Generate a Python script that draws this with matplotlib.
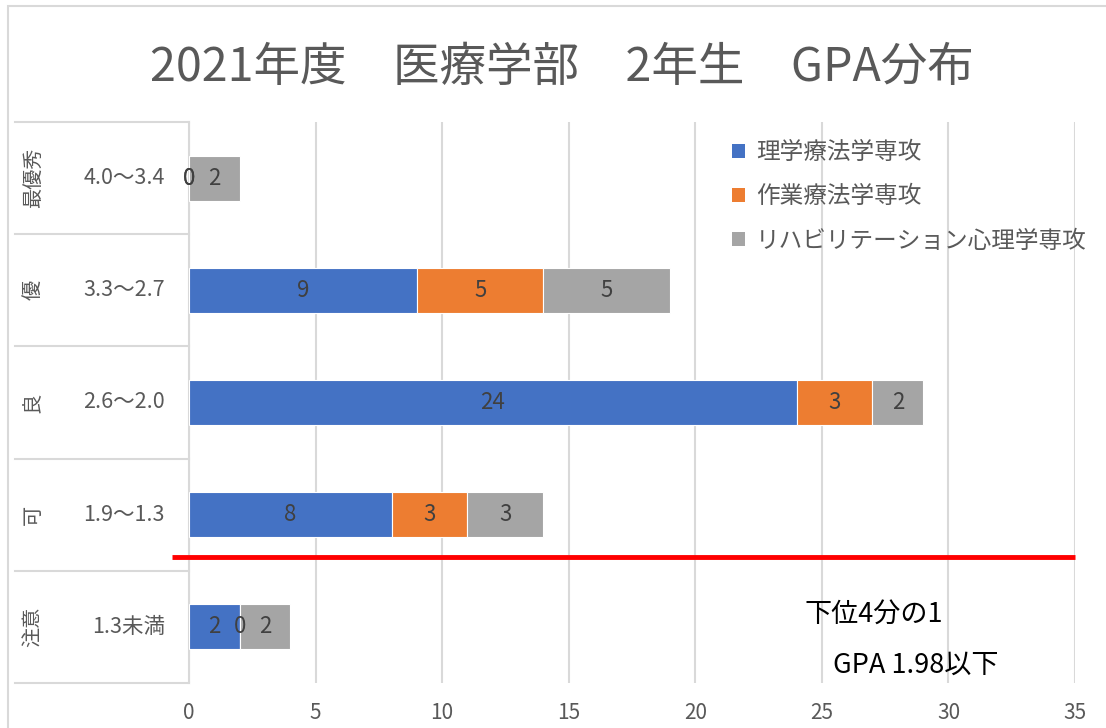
import matplotlib
matplotlib.use('Agg')
import matplotlib.pyplot as plt
from matplotlib.patches import Patch, Rectangle
import numpy as np

plt.rcParams['font.family'] = ['Noto Sans CJK JP', 'DejaVu Sans']

# データ（上から下の順）
groups = ['最優秀', '優', '良', '可', '注意']
ranges = ['4.0～3.4', '3.3～2.7', '2.6～2.0', '1.9～1.3', '1.3未満']
series = ['理学療法学専攻', '作業療法学専攻', 'リハビリテーション心理学専攻']
pt = [0, 9, 24, 8, 2]
ot = [0, 5, 3, 3, 0]
psy = [2, 5, 2, 3, 2]
colors = ['#4472C4', '#ED7D31', '#A5A5A5']

title = '2021年度　医療学部　2年生　GPA分布'
note1 = '下位4分の1'
note2 = 'GPA 1.98以下'

grid_c = '#d9d9d9'
text_c = '#595959'

fig = plt.figure(figsize=(11.06, 7.28), dpi=100)
fig.set_facecolor('white')
ax = fig.add_axes([189 / 1106, 45 / 728, 886 / 1106, 561 / 728])

# 外枠
fig.patches.append(Rectangle((8 / 1106, -0.1), 1.2, (728 - 6) / 728 + 0.1,
                             transform=fig.transFigure, fill=False,
                             edgecolor=grid_c, linewidth=1.5))

y = np.arange(len(groups))[::-1]
left = np.zeros(len(groups))
for vals, name, c in zip([pt, ot, psy], series, colors):
    bars = ax.barh(y, vals, left=left, height=0.4, color=c, edgecolor='white',
                   linewidth=0.8, label=name, zorder=3)
    ax.bar_label(bars, labels=[str(v) for v in vals], label_type='center',
                 fontsize=16, color='#404040', zorder=4)
    left = left + np.array(vals)

ax.set_xlim(0, 35)
ax.set_ylim(-0.5, 4.5)
ax.set_xticks(range(0, 36, 5))
ax.set_yticks([])
ax.tick_params(axis='x', length=0, pad=14, labelsize=15, labelcolor=text_c)
ax.grid(axis='x', color=grid_c, linewidth=1.5, zorder=0)
for s in ['top', 'right', 'bottom']:
    ax.spines[s].set_visible(False)
ax.spines['left'].set_color(grid_c)
ax.spines['left'].set_linewidth(1.5)

# カテゴリ軸（2段ラベル）
box_left = (15 - 189) / 886
for b in np.arange(-0.5, 5, 1.0):
    ax.plot([box_left, 0], [b, b], color=grid_c, linewidth=1.5,
            transform=ax.get_yaxis_transform(), clip_on=False)
for yy, g, r in zip(y, groups, ranges):
    ax.text((33 - 189) / 886, yy, g, rotation=90, ha='center', va='center',
            fontsize=14.5, color=text_c, transform=ax.get_yaxis_transform())
    ax.text((165 - 189) / 886, yy, r, ha='right', va='center',
            fontsize=15.5, color=text_c, transform=ax.get_yaxis_transform())

# 下位4分の1 ライン
ax.plot([-0.67, 35], [0.625, 0.625], color='red', linewidth=3.5,
        clip_on=False, zorder=5, solid_capstyle='butt')
ax.text(805 / 1106, (728 - 615) / 728, note1, transform=fig.transFigure,
        fontsize=19.5, color='black', ha='left', va='center')
ax.text(833 / 1106, (728 - 665) / 728, note2, transform=fig.transFigure,
        fontsize=19.5, color='black', ha='left', va='center')

fig.text(562 / 1106, (728 - 68) / 728, title, ha='center', va='center',
         fontsize=33.5, color=text_c)

handles = [Patch(facecolor=c, edgecolor='none') for c in colors]
ax.legend(handles, series, loc='upper left', bbox_to_anchor=(0.589, 1.004),
          frameon=False, fontsize=17, labelcolor=text_c,
          handlelength=0.55, handleheight=0.55, handletextpad=0.45,
          labelspacing=0.9)

fig.savefig('out.png', dpi=100)
